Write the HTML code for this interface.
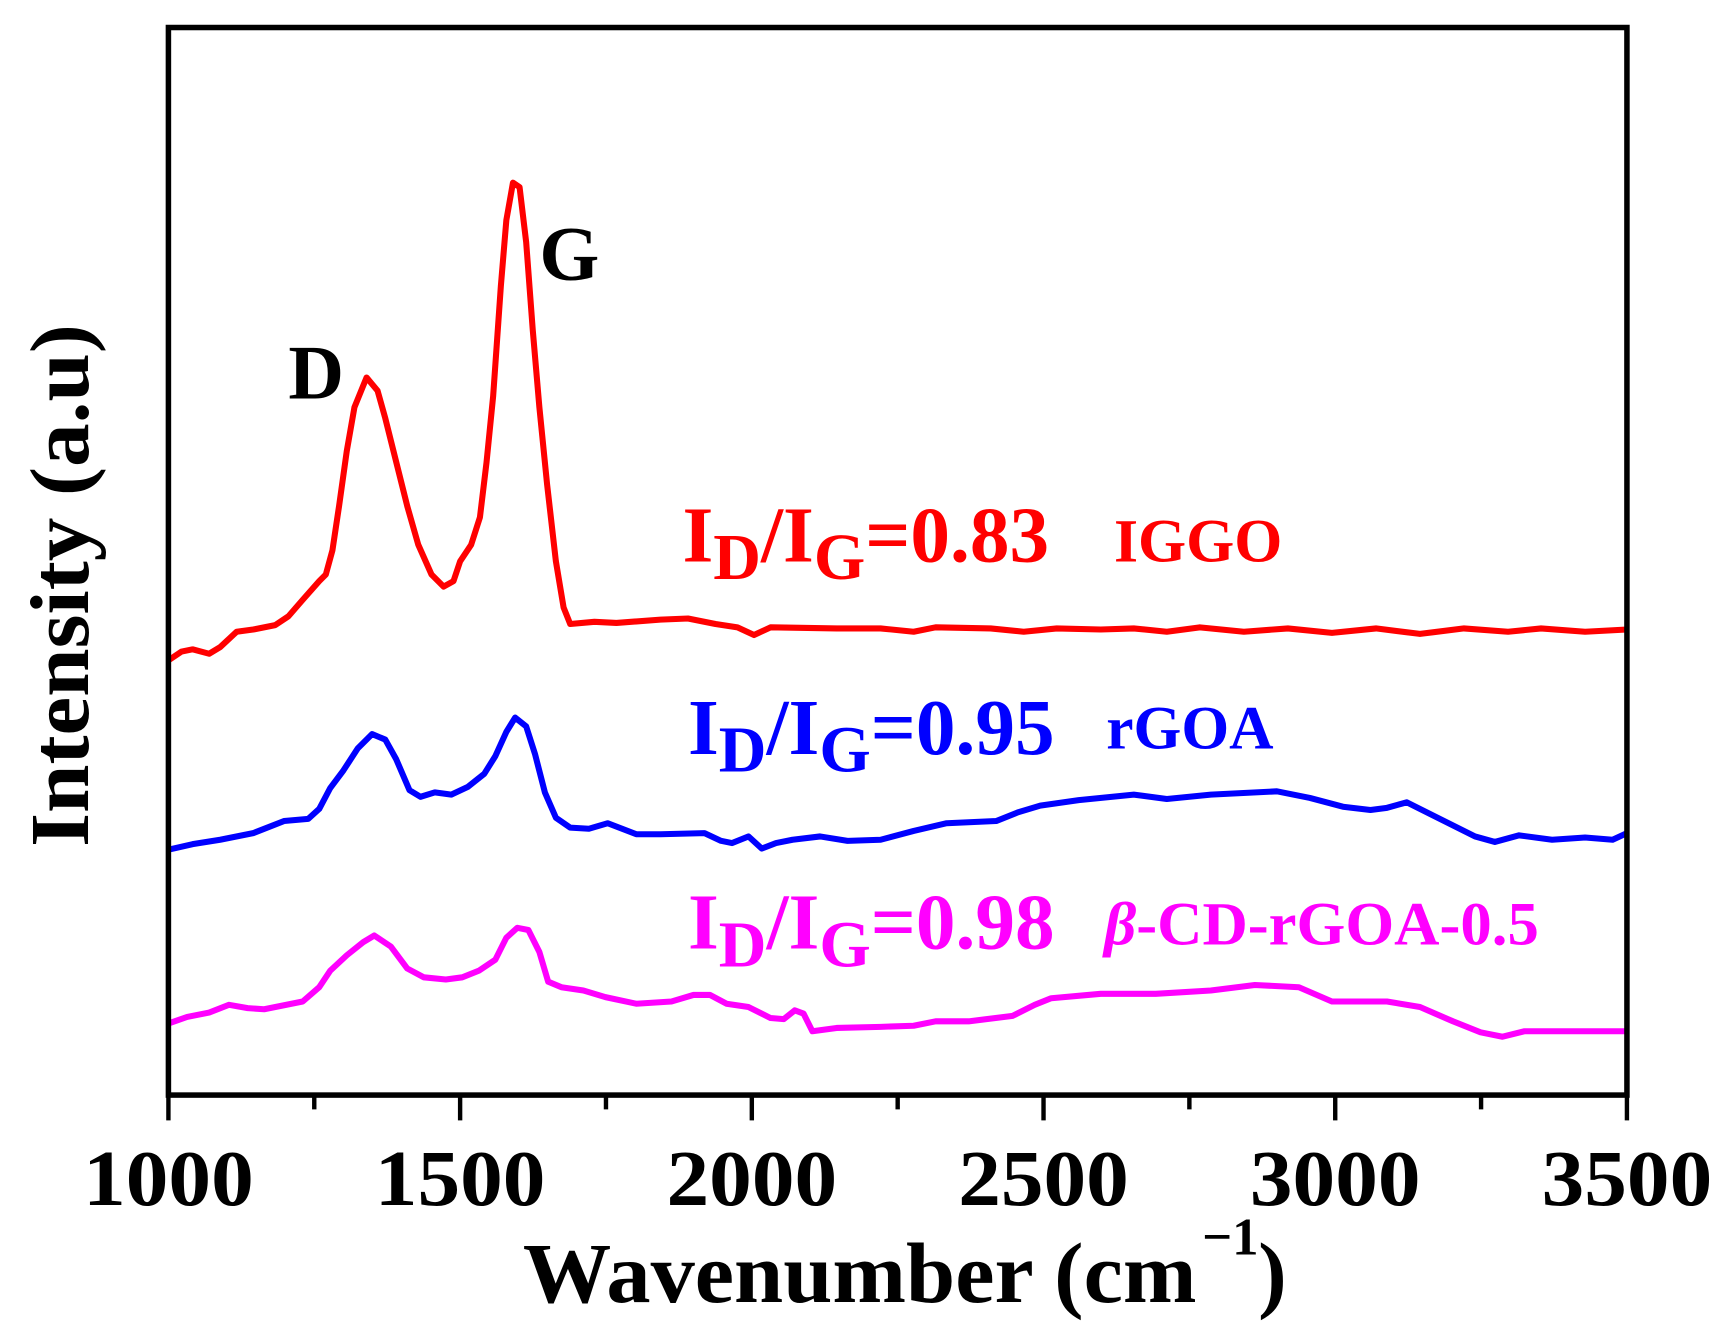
<!DOCTYPE html>
<html><head><meta charset="utf-8"><style>
html,body{margin:0;padding:0;background:#fff;}
svg{display:block;}
text{font-family:"Liberation Serif",serif;font-weight:bold;}
</style></head><body>
<svg width="1726" height="1335" viewBox="0 0 1568 1213" preserveAspectRatio="none" xmlns="http://www.w3.org/2000/svg">
<rect x="0" y="0" width="1568" height="1213" fill="#fff"/>
<g stroke="#000" stroke-width="4">
<line x1="153" y1="995" x2="153" y2="1018"/>
<line x1="285.5" y1="995" x2="285.5" y2="1008"/>
<line x1="418" y1="995" x2="418" y2="1018"/>
<line x1="550.5" y1="995" x2="550.5" y2="1008"/>
<line x1="683" y1="995" x2="683" y2="1018"/>
<line x1="815.5" y1="995" x2="815.5" y2="1008"/>
<line x1="948" y1="995" x2="948" y2="1018"/>
<line x1="1080.5" y1="995" x2="1080.5" y2="1008"/>
<line x1="1213" y1="995" x2="1213" y2="1018"/>
<line x1="1345.5" y1="995" x2="1345.5" y2="1008"/>
<line x1="1478" y1="995" x2="1478" y2="1018"/>
</g>
<g fill="none" stroke-width="5.5" stroke-linejoin="round">
<polyline stroke="#ff0000" points="153,600 165,592 175,590 190,594 200,588 215,574 230,572 250,568 262,560 275,545 290,528 296,522 302,500 308,460 315,410 322,370 333,343 343,355 350,380 360,420 370,460 380,495 392,522 403,533 412,528 418,510 428,495 436,470 442,420 448,360 455,260 460,200 466,166 472,170 478,220 484,300 490,370 497,440 505,510 512,552 518,567 540,565 560,566 600,563 625,562 650,567 670,570 685,577 700,570 760,571 800,571 830,574 850,570 900,571 930,574 960,571 1000,572 1030,571 1060,574 1090,570 1130,574 1170,571 1210,575 1250,571 1290,576 1330,571 1370,574 1400,571 1440,574 1478,572"/>
<polyline stroke="#0000ff" points="153,772 175,767 200,763 230,757 258,746 280,744 290,735 300,716 312,700 325,680 338,667 350,672 360,690 372,718 382,724 395,720 410,722 425,715 440,703 450,687 460,665 468,652 478,660 486,685 495,720 505,743 518,752 535,753 552,748 565,753 578,758 600,758 640,757 655,764 665,766 680,760 692,771 705,766 720,763 745,760 770,764 800,763 830,755 860,748 905,746 925,738 945,732 980,727 1030,722 1060,726 1100,722 1160,719 1190,725 1220,733 1245,736 1260,734 1278,729 1300,740 1320,750 1340,760 1358,765 1380,759 1410,763 1440,761 1465,763 1478,757"/>
<polyline stroke="#ff00ff" points="153,930 170,924 190,920 208,913 225,916 240,917 275,910 290,897 300,882 315,868 330,856 340,850 355,860 370,880 385,888 405,890 420,888 435,882 450,872 460,852 470,843 480,845 490,865 498,892 510,897 530,900 550,906 578,912 610,910 630,904 645,904 660,912 680,915 700,925 712,926 722,918 730,921 738,937 760,934 800,933 830,932 850,928 880,928 920,923 940,913 955,907 1000,903 1050,903 1100,900 1140,895 1180,897 1210,910 1260,910 1290,915 1320,928 1345,938 1365,942 1385,937 1420,937 1478,937"/>
</g>
<rect x="153" y="25" width="1325" height="970" fill="none" stroke="#000" stroke-width="5"/>
<g font-size="72" text-anchor="middle">
<text x="153" y="1095" textLength="155" lengthAdjust="spacingAndGlyphs">1000</text>
<text x="418" y="1095" textLength="155" lengthAdjust="spacingAndGlyphs">1500</text>
<text x="683" y="1095" textLength="155" lengthAdjust="spacingAndGlyphs">2000</text>
<text x="948" y="1095" textLength="155" lengthAdjust="spacingAndGlyphs">2500</text>
<text x="1213" y="1095" textLength="155" lengthAdjust="spacingAndGlyphs">3000</text>
<text x="1478" y="1095" textLength="155" lengthAdjust="spacingAndGlyphs">3500</text>
</g>
<text x="475" y="1183" font-size="78" textLength="612" lengthAdjust="spacingAndGlyphs">Wavenumber (cm</text>
<text x="1092" y="1140" font-size="48">−1</text>
<text x="1143" y="1183" font-size="78">)</text>
<text transform="translate(80,532) rotate(-90)" x="0" y="0" font-size="76" text-anchor="middle" textLength="475" lengthAdjust="spacingAndGlyphs">Intensity (a.u)</text>
<text x="262" y="362" font-size="70">D</text>
<text x="490" y="254" font-size="70">G</text>
<g fill="#ff0000">
<text x="620" y="510" font-size="72">I<tspan font-size="60" dy="16">D</tspan><tspan dy="-16">/I</tspan><tspan font-size="60" dy="16">G</tspan><tspan dy="-16">=0.83</tspan></text>
<text x="1012" y="510" font-size="56" textLength="153" lengthAdjust="spacingAndGlyphs">IGGO</text>
</g>
<g fill="#0000ff">
<text x="625" y="685" font-size="72">I<tspan font-size="60" dy="16">D</tspan><tspan dy="-16">/I</tspan><tspan font-size="60" dy="16">G</tspan><tspan dy="-16">=0.95</tspan></text>
<text x="1005" y="680" font-size="56" textLength="152" lengthAdjust="spacingAndGlyphs">rGOA</text>
</g>
<g fill="#ff00ff">
<text x="625" y="862" font-size="72">I<tspan font-size="60" dy="16">D</tspan><tspan dy="-16">/I</tspan><tspan font-size="60" dy="16">G</tspan><tspan dy="-16">=0.98</tspan></text>
<text x="1003" y="858" font-size="56" textLength="395" lengthAdjust="spacingAndGlyphs"><tspan font-style="italic">β</tspan>-CD-rGOA-0.5</text>
</g>
</svg>
</body></html>
